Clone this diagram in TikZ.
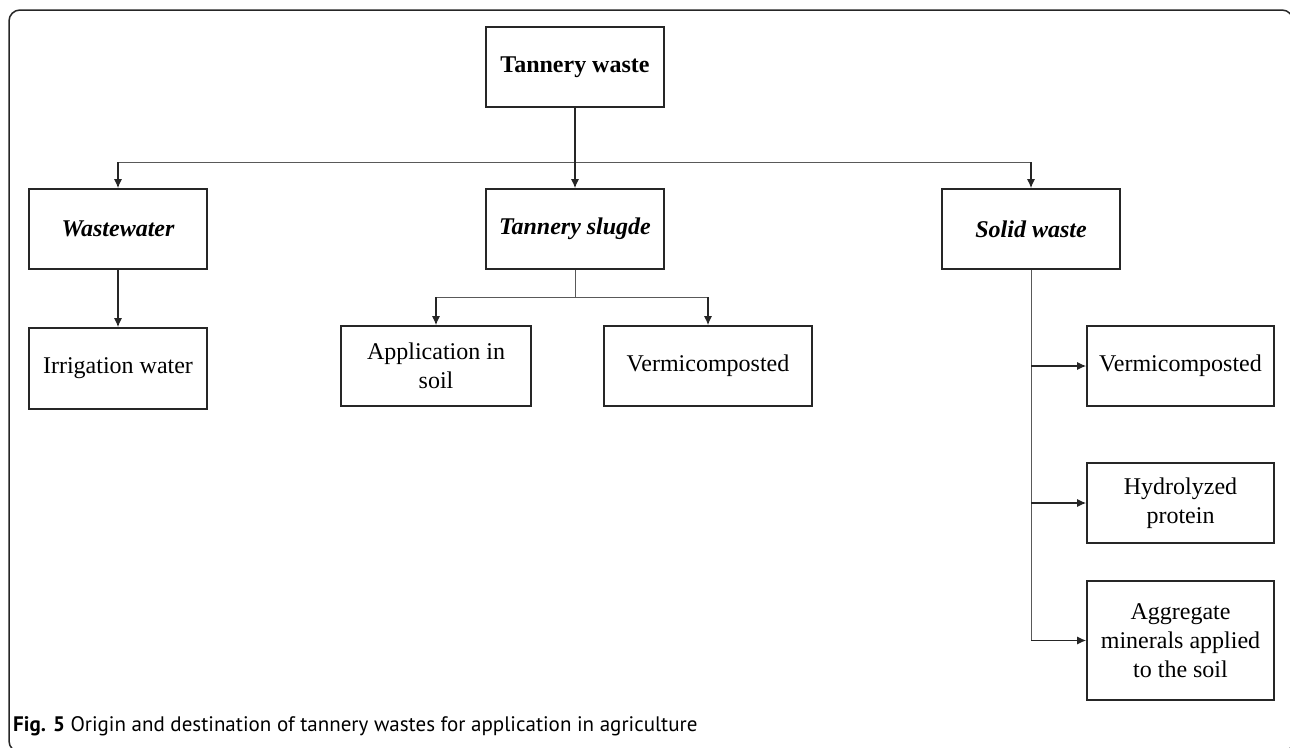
\documentclass[tikz,border=0pt]{standalone}
\usepackage{fontspec}
\setmainfont{Liberation Serif}
\newfontfamily\capfont{PT Sans}
\usetikzlibrary{arrows.meta}
\begin{document}
\begin{tikzpicture}[x=1pt,y=-1pt,
  box/.style={draw=black!85,line width=1.6pt,inner sep=0pt,align=center,font=\fontsize{24}{29}\selectfont},
  conn/.style={draw=black!65,line width=1pt},
  arr/.style={draw=black!85,line width=1.3pt,-{Latex[length=9pt,width=8pt]}},
  frame/.style={draw=black!85,line width=1.5pt,rounded corners=11pt}]
\useasboundingbox (0,0) rectangle (1290,747);
\begin{scope}
\clip (0,0) rectangle (1290,747);
\draw[frame] (9,10) rectangle (1293,752);
\end{scope}
% boxes
\node[box,minimum width=178pt,minimum height=80pt] (tw) at (575,67) {\bfseries Tannery waste};
\node[box,minimum width=178pt,minimum height=80pt] (ww) at (118,229) {\bfseries\itshape Wastewater};
\node[box,minimum width=178pt,minimum height=80pt] (ts) at (575,229) {\bfseries\itshape Tannery slugde};
\node[box,minimum width=178pt,minimum height=80pt] (sw) at (1031,229) {\bfseries\itshape Solid waste};
\node[box,minimum width=178pt,minimum height=81pt] (iw) at (118,368.5) {Irrigation water};
\node[box,minimum width=190pt,minimum height=80pt] (as) at (436,366) {Application in\\soil};
\node[box,minimum width=208pt,minimum height=80pt] (vc) at (708,366) {Vermicomposted};
\node[box,minimum width=187pt,minimum height=80pt] (vs) at (1180.5,366) {Vermicomposted};
\node[box,minimum width=187pt,minimum height=80pt] (hp) at (1180.5,503) {Hydrolyzed\\protein};
\node[box,minimum width=187pt,minimum height=119pt] (ag) at (1180.5,640.5) {Aggregate\\minerals applied\\to the soil};
% connectors
\coordinate (h1) at (118,162);
\coordinate (h2) at (1031,162);
\draw[conn] (h1) -- (h2);
\draw[arr] (tw.south) -- (ts.north);
\draw[arr] (h1) -- (ww.north);
\draw[arr] (h2) -- (sw.north);
\draw[arr] (ww.south) -- (iw.north);
\coordinate (s0) at (575,297);
\coordinate (s1) at (436,297);
\coordinate (s2) at (708,297);
\draw[conn] (ts.south) -- (s0);
\draw[conn] (s1) -- (s2);
\draw[arr] (s1) -- (as.north);
\draw[arr] (s2) -- (vc.north);
\coordinate (r1) at (1031,366);
\coordinate (r2) at (1031,503);
\coordinate (r3) at (1031,640.5);
\draw[conn] (sw.south) -- (r3);
\draw[arr] (r1) -- (vs.west);
\draw[arr] (r2) -- (hp.west);
\draw[arr] (r3) -- (ag.west);
% caption
\node[anchor=base west,inner sep=0pt,font=\capfont\fontsize{21}{25}\selectfont] (cap) at (13,731) {\textbf{Fig. 5} Origin and destination of tannery wastes for application in agriculture};
\end{tikzpicture}
\end{document}
